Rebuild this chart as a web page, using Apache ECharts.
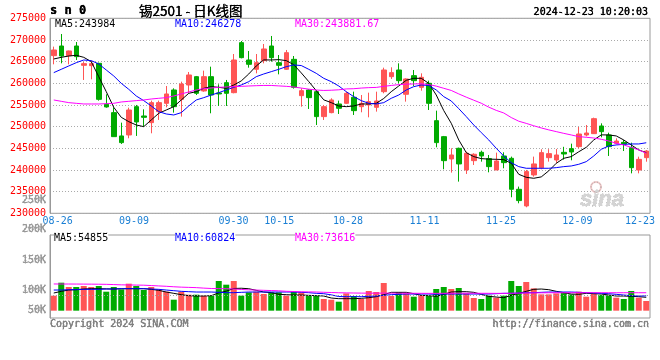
<!DOCTYPE html>
<html><head><meta charset="utf-8">
<script src="https://cdn.jsdelivr.net/npm/echarts@6/dist/echarts.min.js"></script>
<style>html,body{margin:0;padding:0;background:#fff}#c{width:660px;height:360px}</style>
</head><body><div id="c"></div>
<script>
const dates = [
 '08-23','08-26','08-27','08-28','08-29','08-30','09-02','09-03','09-04','09-05',
 '09-06','09-09','09-10','09-11','09-12','09-13','09-18','09-19','09-20','09-23',
 '09-24','09-25','09-26','09-27','09-30','10-08','10-09','10-10','10-11','10-14',
 '10-15','10-16','10-17','10-18','10-21','10-22','10-23','10-24','10-25','10-28',
 '10-29','10-30','10-31','11-01','11-04','11-05','11-06','11-07','11-08','11-11',
 '11-12','11-13','11-14','11-15','11-18','11-19','11-20','11-21','11-22','11-25',
 '11-26','11-27','11-28','11-29','12-02','12-03','12-04','12-05','12-06','12-09',
 '12-10','12-11','12-12','12-13','12-16','12-17','12-18','12-19','12-20','12-23'];
const opens = [
 266380,268610,266380,268610,264150,264070,264610,255150,253230,247850,
 248080,254610,252460,250920,253460,255380,258460,256300,259610,261530,
 258230,261530,257770,260150,257840,269380,265380,263230,265230,268610,
 264760,263230,265530,257150,258460,258070,252310,253230,255230,255380,
 256770,254610,255000,254460,258070,261530,263070,257460,261770,259070,
 260000,251380,247690,242540,245000,240000,242150,244080,242620,240000,
 243230,242690,235540,231700,238850,240500,242840,242300,244070,244920,
 245380,248070,248380,250150,248070,246140,246370,245140,239990,242840];
const closes = [
 267690,266300,267460,266150,264530,264530,256300,254540,247690,246310,
 253840,251080,252150,255540,255540,257540,254610,259840,261920,257690,
 261530,257300,257540,257690,265380,265920,264380,264760,267920,265920,
 264150,267070,259070,258300,256690,252310,254610,256150,254230,257690,
 253690,255380,255770,255920,263070,262460,260610,261000,260610,261380,
 255380,246310,242150,243460,241390,243850,243620,243230,240770,242080,
 241690,235540,232930,239620,241390,244000,243770,243460,243690,244150,
 248300,248530,251840,248840,245380,246680,245990,240530,242450,244370];
const lows = [
 264380,264610,264380,265380,260770,260920,256000,254380,247690,246000,
 247310,247850,250000,248460,251540,254460,253230,252310,257690,257300,
 258070,253080,254770,254770,257690,265760,263610,262300,264610,265000,
 262070,263070,258770,254610,254080,250380,251540,253080,252920,255230,
 252690,253310,252150,253460,257690,261000,260000,255770,259380,258300,
 253840,245230,240160,239390,237310,239080,241150,241920,239460,240000,
 240390,233700,232310,231390,238460,240160,241920,241650,242380,242230,
 245000,247760,248300,247530,243230,245910,244370,239220,239220,241910];
const highs = [
 268460,271380,267550,269530,264920,265230,264760,257460,254460,250920,
 254380,255000,254000,256000,256000,259380,258840,260380,262610,261690,
 262920,263840,259770,260770,266760,269760,267460,266760,269070,270920,
 266530,267690,266300,258840,258620,258460,255000,256540,256000,258070,
 258070,257300,257840,258070,263610,263690,264610,261150,263070,262300,
 260610,253690,247850,245000,245150,244230,243850,244460,243460,244000,
 244080,243080,236160,240000,243080,244770,244800,244840,245340,246070,
 249920,250380,252070,250760,248610,247300,246910,246300,243070,244600];
const ma5 = [
 265610,265990,266300,266460,265990,265000,261530,258070,254460,252150,
 251150,250380,250000,251540,253080,253840,254610,256150,257690,258070,
 258840,259230,259070,258840,259600,260550,262150,264000,265400,265380,
 265460,265230,264300,262400,260400,258300,256180,255540,254770,254610,
 254770,255230,255230,255380,256500,258070,259380,260700,261150,261150,
 260000,257300,253700,250770,246920,244000,243080,242620,242500,242460,
 242390,241540,239000,238300,238080,238400,239800,241540,242690,243080,
 244200,245230,246920,248100,248080,247850,246920,245770,244620,243984];
const ma10 = [
 262460,263230,264000,264760,265380,265230,264460,263070,261690,260000,
 258610,257070,256000,254770,253460,252920,252690,253230,254770,256150,
 256690,257300,257840,258460,259070,259610,260380,261530,262150,262690,
 263230,263840,264230,264100,263230,262300,261150,260380,259380,258070,
 256920,256000,255380,255230,255540,256540,257300,258460,259230,259610,
 259500,258460,256920,255920,254150,252310,250380,248620,246920,245000,
 243230,241690,240770,240390,240390,240390,240390,240540,240770,240920,
 241310,241920,243230,244770,245540,245770,245920,246000,246000,246278];
const ma30 = [
 256150,255840,255540,255380,255230,255230,255230,255300,255380,255690,
 255840,256000,256150,256380,256540,256690,257070,257540,258000,258460,
 258770,258920,259070,259150,259230,259300,259380,259450,259500,259500,
 259400,259300,259150,258900,258650,258450,258350,258400,258500,258700,
 258750,258900,259000,259050,259300,259500,259700,259800,259850,259900,
 259700,259350,258850,258350,257550,256800,256100,255400,254500,253750,
 253150,252100,251250,250750,250200,249700,249250,248850,248450,248080,
 247700,247540,247380,247080,246690,246150,245770,245230,244620,243882];
const volumes = [
 61500,114800,97200,97200,101300,97200,101300,77900,97200,87300,
 110700,101300,84900,97200,87300,77900,45100,77900,65600,65600,
 61500,61500,121800,106600,121800,61500,75000,77900,68500,75000,
 75000,61500,77900,75000,61500,61500,48000,45100,36900,70900,
 60300,48000,80800,76700,113600,60300,75000,70900,57400,64400,
 60300,89000,97200,89000,93100,70900,52100,48000,61500,53300,
 61500,121800,101300,117700,91400,66800,66800,70900,75000,66800,
 77900,57400,70900,64400,62700,53300,48000,80800,53300,39800];
const volMa5 = [
 72400,79300,84700,86100,88800,90200,90200,89500,88800,90200,
 90200,90200,90200,87500,83400,76500,71100,65600,61500,60100,
 60100,61500,73000,80000,91000,92000,90000,83400,76500,73800,
 67000,65600,64200,64200,62900,61500,60100,52000,49200,49200,
 49200,50600,53300,57400,65600,75200,75200,75200,69700,62900,
 61500,58800,67000,76500,77900,77900,75200,67000,58800,56000,
 53300,62900,71100,79300,87500,88800,86100,79300,73800,68300,
 67000,71100,69700,68300,64200,60100,60100,58800,57400,54855];
const volMa10 = [
 84700,84700,86100,86100,87500,87500,87500,88800,88800,90200,
 90200,90200,90200,88800,87500,84700,82000,79300,77900,76500,
 76500,76500,75200,73800,73800,75200,76500,76500,76500,76500,
 76500,76500,76500,75200,73800,71100,69700,64900,58000,57400,
 57400,57400,58800,60100,62900,65600,67000,68300,68300,68300,
 68300,67000,68300,68300,68300,68300,68300,68300,68300,69700,
 71100,71100,72400,73800,73800,75200,76500,76500,76500,76500,
 75200,73800,72400,71100,69700,67000,64200,61500,60100,60824];
const volMa30 = [
 109500,109400,109300,109200,109000,108800,108500,108000,107000,106000,
 105500,105000,104500,103000,101500,100000,98000,96500,95500,94500,
 92500,91000,90500,90000,89000,87000,85500,84500,83500,82500,
 81500,79500,78500,77500,77000,76500,75500,74500,73500,73000,
 72500,72000,71800,71800,72000,71800,71500,71500,71300,71200,
 71000,71000,71200,71500,71800,71800,71500,71300,71200,71000,
 71000,71500,72000,72500,73000,73200,73400,73500,73500,73600,
 73800,73800,73800,73700,73700,73600,73600,73700,73600,73616];
const tickDates = ['08-26','09-09','09-30','10-15','10-28','11-11','11-25','12-09','12-23'];
const volTickLabels = ['250K','200K','150K','100K','50K'];
const priceLegend = ['MA5:243984','MA10:246278','MA30:243881.67'];
const volLegend = ['MA5:54855','MA10:60824','MA30:73616'];
const titleCode = 's n 0';
const titleText = '锡2501 - 日K线图';
const stamp = '2024-12-23 10:20:03';

const RED = '#ff5555', GREEN = '#00aa00', GRIDC = '#a0a0a0';
const MONO = "'DejaVu Sans Mono','Liberation Mono',monospace";
// date-grid scale: the labelled grid of this chart runs slightly wider than the candle slots
const SUB = 10, SPAN_SLOTS = 785;
const slotAxis = Array.from({ length: SPAN_SLOTS + 1 }, (_, k) => String(k / SUB));
const slotLabel = {};
tickDates.forEach(t => { const k = Math.min(dates.indexOf(t) * SUB, SPAN_SLOTS); slotLabel[k] = t; });
const gridSlots = tickDates.map(t => dates.indexOf(t) * SUB).filter(k => k < SPAN_SLOTS);
const PRICE_MIN = 230000, PRICE_MAX = 275000, VOL_PX = 83;
const G0 = { left: 50, top: 18.3, width: 600, height: 195 };
const G1 = { left: 50, top: 235, width: 600, height: 83 };

const candleData = dates.map((d, i) => [opens[i], closes[i], lows[i], highs[i]]);
const volData = volumes.map((v, i) => ({ value: v, itemStyle: { color: closes[i] >= opens[i] ? RED : GREEN } }));

function lineSeries(data, color, xi, yi) {
  return { type: 'line', data: data, xAxisIndex: xi, yAxisIndex: yi, showSymbol: false, symbol: 'none',
    lineStyle: { color: color, width: 1 }, itemStyle: { color: color }, silent: true, animation: false, z: 3 };
}
const crisp = (v) => Math.round(v - 0.5) + 0.5;
function txt(x, y, text, color, extra) {
  return Object.assign({ type: 'text', x: x, y: y, z: 100,
    style: Object.assign({ text: text, fill: color, font: '10px ' + MONO, align: 'left', verticalAlign: 'middle' }, extra || {}) });
}
function dotLine(x1, y1, x2, y2) {
  return { type: 'line', z: 50, silent: true, shape: { x1: x1, y1: y1, x2: x2, y2: y2 },
    style: { stroke: GRIDC, lineWidth: 1, lineDash: [1, 2] } };
}
function slotAxisOpt(grid, withLabels) {
  return { type: 'category', gridIndex: grid, data: slotAxis, boundaryGap: false, position: 'bottom',
    axisLine: { show: false }, axisTick: { show: false }, splitLine: { show: false },
    axisLabel: { show: withLabels, interval: function (k) { return slotLabel[k] !== undefined; },
      color: '#1a7fd4', fontFamily: MONO, fontSize: 10, margin: 3,
      formatter: function (v, k) {
        const t = slotLabel[k];
        if (t === undefined) return '';
        return k >= SPAN_SLOTS ? '{e|' + t + '}' : t;
      },
      rich: { e: { color: '#1a7fd4', fontFamily: MONO, fontSize: 10, padding: [0, 20, 0, 0] } } } };
}
function dateAxisOpt(grid) {
  return { type: 'category', gridIndex: grid, data: dates, boundaryGap: true, position: 'bottom',
    axisLine: { show: false }, axisTick: { show: false }, axisLabel: { show: false }, splitLine: { show: false } };
}

const chart = echarts.init(document.getElementById('c'), null, { renderer: 'canvas' });
const volYs = [200.7, 229, 260.7, 290.7, 310.7];
const graphics = [
  txt(50, 11, titleCode, '#000', { font: 'bold 12px ' + MONO }),
  txt(139, 10.5, titleText, '#000', { font: '13.5px "Noto Sans CJK SC"' }),
  txt(648, 12, stamp, '#000', { align: 'right' }),
  txt(55, 24, priceLegend[0], '#000', { backgroundColor: '#fff' }),
  txt(175, 24, priceLegend[1], '#0000ff', { backgroundColor: '#fff' }),
  txt(295, 24, priceLegend[2], '#ff00ff', { backgroundColor: '#fff' }),
  txt(54, 238.5, volLegend[0], '#000', { backgroundColor: '#fff' }),
  txt(175, 238.5, volLegend[1], '#0000ff', { backgroundColor: '#fff' }),
  txt(295, 238.5, volLegend[2], '#ff00ff', { backgroundColor: '#fff' }),
  txt(50, 324, 'Copyright 2024 SINA.COM', '#808080'),
  txt(649, 324, 'http://finance.sina.com.cn', '#808080', { align: 'right' }),
  { type: 'circle', z: 1, shape: { cx: 596, cy: 187, r: 5 }, style: { fill: 'none', stroke: '#f0c8c8', lineWidth: 2 } },
  txt(580, 200, 'sina', '#d4d4d4', { font: 'italic bold 22px "Liberation Sans"', z: 1 })
];
volTickLabels.forEach((t, i) => graphics.push(txt(46, volYs[i], t, '#999', { align: 'right' })));

chart.setOption({
  animation: false,
  backgroundColor: '#fff',
  grid: [
    Object.assign({ show: true, borderColor: '#999', borderWidth: 1 }, G0),
    Object.assign({ show: true, borderColor: '#999', borderWidth: 1 }, G1)
  ],
  xAxis: [
    slotAxisOpt(0, true),
    dateAxisOpt(0),
    slotAxisOpt(1, false),
    dateAxisOpt(1)
  ],
  yAxis: [
    { type: 'value', gridIndex: 0, min: PRICE_MIN, max: PRICE_MAX, interval: 5000, position: 'left',
      axisLine: { show: true, lineStyle: { color: '#999' } }, axisTick: { show: false },
      splitLine: { show: true, lineStyle: { color: '#aaa', type: [1, 2], width: 1 } },
      axisLabel: { color: '#ff0000', fontFamily: MONO, fontSize: 10, margin: 4, padding: [0, 0, 4, 0],
        formatter: function (v) { return String(v); } } },
    { type: 'value', gridIndex: 1, inverse: true, min: 0, max: VOL_PX, position: 'left',
      axisLine: { show: true, lineStyle: { color: '#999' } }, axisTick: { show: false }, axisLabel: { show: false },
      splitLine: { show: false } },
    { type: 'value', gridIndex: 1, min: -30000, max: 310300, position: 'right',
      axisLine: { show: false }, axisTick: { show: false },
      axisLabel: { show: false }, splitLine: { show: false } }
  ],
  series: [
    { type: 'candlestick', xAxisIndex: 1, yAxisIndex: 0, data: candleData, barWidth: 5, silent: true, z: 2,
      itemStyle: { color: RED, color0: GREEN, borderColor: RED, borderColor0: GREEN, borderWidth: 1 } },
    lineSeries(ma5, '#000000', 1, 0),
    lineSeries(ma10, '#0000ff', 1, 0),
    lineSeries(ma30, '#ff00ff', 1, 0),
    { type: 'bar', xAxisIndex: 3, yAxisIndex: 2, data: volData, barWidth: 6, silent: true, z: 2 },
    lineSeries(volMa5, '#000000', 3, 2),
    lineSeries(volMa10, '#0000ff', 3, 2),
    lineSeries(volMa30, '#ff00ff', 3, 2)
  ],
  graphic: graphics
});

// dotted date grid lines and volume grid lines, placed through the chart's own axis scales
const gridLines = [];
gridSlots.forEach(k => {
  let px = chart.convertToPixel({ xAxisIndex: 0 }, slotAxis[k]);
  if (typeof px !== 'number' || isNaN(px)) px = chart.convertToPixel({ xAxisIndex: 0 }, k);
  if (typeof px !== 'number' || isNaN(px)) return;
  const x = crisp(px);
  gridLines.push(dotLine(x, G0.top, x, G0.top + G0.height));
  gridLines.push(dotLine(x, G1.top, x, G1.top + G1.height));
});
[20, 40, 60].forEach(p => {
  const py = chart.convertToPixel({ yAxisIndex: 1 }, p);
  if (typeof py !== 'number' || isNaN(py)) return;
  const y = crisp(py);
  gridLines.push(dotLine(G1.left, y, G1.left + G1.width, y));
});
chart.setOption({ graphic: gridLines.concat(graphics) });
</script></body></html>
